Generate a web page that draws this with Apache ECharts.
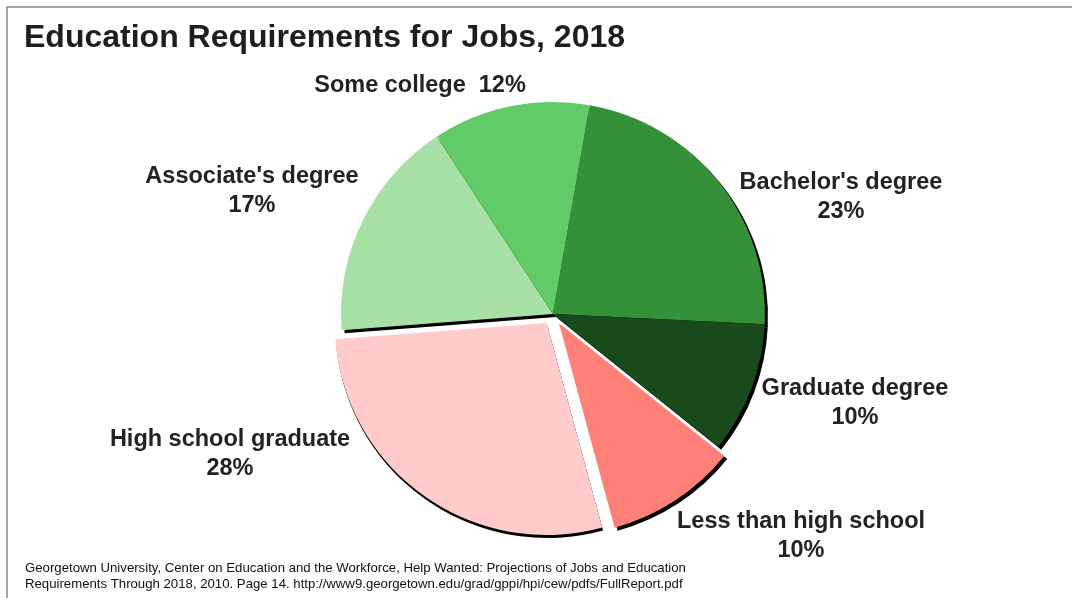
<!DOCTYPE html>
<html>
<head>
<meta charset="utf-8">
<script src="https://cdn.jsdelivr.net/npm/echarts@6/dist/echarts.min.js"></script>
<style>
html,body{margin:0;padding:0;background:#fff;}
#chart{width:1072px;height:598px;}
</style>
</head>
<body>
<div id="chart"></div>
<script>
// ---- data ----
var categories = ["Bachelor's degree", "Graduate degree", "Less than high school", "High school graduate", "Associate's degree", "Some college"];
var shares = [23, 10, 10, 28, 17, 12];
var exploded = [false, false, true, true, false, false];
var colors = ['#34913a', '#184a1c', '#ff8079', '#ffcbcb', '#a6e0a5', '#61cc67'];
var titleText = 'Education Requirements for Jobs, 2018';
var sourceLines = [
  'Georgetown University, Center on Education and the Workforce, Help Wanted: Projections of Jobs and Education',
  'Requirements Through 2018, 2010. Page 14. http://www9.georgetown.edu/grad/gppi/hpi/cew/pdfs/FullReport.pdf'
];

// ---- layout (label anchor points, pixels) ----
var labelPos = [
  [841, 197], [855, 403], [801, 536], [230, 454], [252, 191], [420, 86]
];
var oneLine = [false, false, false, false, false, true];
// which slices use the straight-down shadow (avoids shadow in the explode gap)
var downShadow = [false, false, false, true, false, false];

var chart = echarts.init(document.getElementById('chart'), null, {renderer: 'canvas'});

var CX = 553, CY = 314, R = 212;

function buildData(mode) {
  return categories.map(function (name, i) {
    var col;
    if (mode === 'main') col = colors[i];
    else if (mode === 'shadowA') col = downShadow[i] ? 'rgba(0,0,0,0)' : '#000';
    else if (mode === 'shadowB') col = downShadow[i] ? '#000' : 'rgba(0,0,0,0)';
    else col = 'rgba(0,0,0,0)';
    var item = {
      name: name,
      value: shares[i],
      selected: mode === 'label' ? false : exploded[i],
      itemStyle: {color: col}
    };
    if (mode === 'label' && oneLine[i]) {
      item.label = {formatter: '{b}  {c}%'};
    }
    return item;
  });
}

var common = {
  type: 'pie',
  radius: R,
  startAngle: 80,
  clockwise: true,
  selectedMode: 'multiple',
  selectedOffset: 11,
  avoidLabelOverlap: false,
  animation: false,
  emphasis: {disabled: true},
  labelLine: {show: false},
  itemStyle: {borderWidth: 0}
};

var option = {
  backgroundColor: '#fff',
  animation: false,
  title: {
    text: titleText,
    left: 19,
    top: 17,
    textStyle: {
      fontFamily: 'Liberation Sans, Arial, sans-serif',
      fontSize: 32,
      fontWeight: 'bold',
      color: '#1e1e1e'
    }
  },
  graphic: [
    {
      type: 'rect',
      silent: true,
      shape: {x: 7, y: 7, width: 1120, height: 700},
      style: {fill: 'none', stroke: '#8a8a8a', lineWidth: 1.5},
      z: -1
    },
    {
      type: 'text',
      silent: true,
      left: 25,
      top: 561,
      style: {
        text: sourceLines.join('\n'),
        font: '13.2px "Liberation Sans", Arial, sans-serif',
        lineHeight: 15.5,
        fill: '#111'
      }
    }
  ],
  series: [
    Object.assign({}, common, {
      name: 'shadowA',
      silent: true,
      center: [CX + 3, CY + 3],
      z: 1,
      label: {show: false},
      data: buildData('shadowA')
    }),
    Object.assign({}, common, {
      name: 'shadowB',
      silent: true,
      center: [CX + 0.8, CY + 3],
      z: 1,
      label: {show: false},
      data: buildData('shadowB')
    }),
    Object.assign({}, common, {
      name: 'jobs',
      center: [CX, CY],
      z: 2,
      label: {show: false},
      data: buildData('main')
    }),
    Object.assign({}, common, {
      name: 'labels',
      silent: true,
      selectedMode: false,
      center: [CX, CY],
      z: 3,
      label: {
        show: true,
        position: 'outside',
        formatter: '{b}\n{c}%',
        fontFamily: 'Liberation Sans, Arial, sans-serif',
        fontSize: 23.5,
        fontWeight: 'bold',
        color: '#222',
        lineHeight: 29,
        align: 'center'
      },
      labelLayout: function (params) {
        var p = labelPos[params.dataIndex];
        return {x: p[0], y: p[1], align: 'center', verticalAlign: 'middle'};
      },
      data: buildData('label')
    })
  ]
};
chart.setOption(option);
</script>
</body>
</html>
